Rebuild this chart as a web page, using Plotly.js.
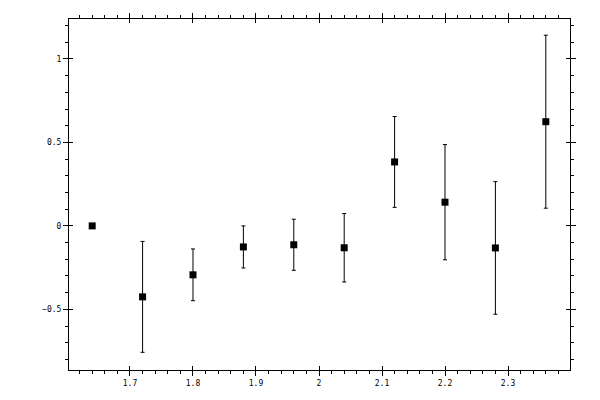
<!DOCTYPE html>
<html>
<head>
<meta charset="utf-8">
<script src="https://cdn.plot.ly/plotly-3.0.1.min.js"></script>
<style>body{margin:0;background:#fff}#chart{width:600px;height:400px}</style>
</head>
<body>
<div id="chart"></div>
<script>
// measured points with symmetric errors
var xVals = [1.64, 1.72, 1.80, 1.88, 1.96, 2.04, 2.12, 2.20, 2.28, 2.36];
var yVals = [0, -0.425, -0.293, -0.126, -0.113, -0.131, 0.383, 0.142, -0.132, 0.624];
var yErr  = [0, 0.332, 0.155, 0.126, 0.153, 0.205, 0.272, 0.345, 0.397, 0.518];

var xRange = [1.6032, 2.3984];
var yRange = [-0.863, 1.239];

var tickFont = {family: 'DejaVu Sans Mono', size: 8, color: '#000'};

var pts = {
    x: xVals,
    y: yVals,
    mode: 'markers',
    type: 'scatter',
    marker: {symbol: 'square', size: 7, color: '#000'},
    error_y: {type: 'data', array: yErr, visible: true, color: '#000', thickness: 1, width: 2},
    showlegend: false,
    hoverinfo: 'x+y'
};

// empty trace on the overlay axes so they get drawn
var dummy = {x: [], y: [], xaxis: 'x2', yaxis: 'y2', type: 'scatter', showlegend: false};

var layout = {
    width: 600,
    height: 400,
    margin: {l: 69, r: 30, t: 19, b: 30},
    paper_bgcolor: '#fff',
    plot_bgcolor: '#fff',
    xaxis: {
        range: xRange,
        dtick: 0.1,
        tick0: 1.7,
        ticks: 'outside',
        ticklen: 5,
        tickwidth: 1,
        tickcolor: '#000',
        showline: true,
        linecolor: '#000',
        linewidth: 1,
        mirror: 'ticks',
        showgrid: false,
        zeroline: false,
        tickfont: tickFont,
        minor: {dtick: 0.02, tick0: 1.7, ticks: 'outside', ticklen: 3, tickcolor: '#000', showgrid: false}
    },
    yaxis: {
        range: yRange,
        dtick: 0.5,
        tick0: 0,
        ticks: 'outside',
        ticklen: 5,
        tickwidth: 1,
        tickcolor: '#000',
        showline: true,
        linecolor: '#000',
        linewidth: 1,
        mirror: 'ticks',
        showgrid: false,
        zeroline: false,
        tickfont: tickFont,
        minor: {dtick: 0.1, tick0: 0, ticks: 'outside', ticklen: 3, tickcolor: '#000', showgrid: false}
    },
    xaxis2: {
        overlaying: 'x',
        range: xRange,
        dtick: 0.1,
        tick0: 1.7,
        ticks: 'inside',
        ticklen: 4,
        tickcolor: '#000',
        mirror: 'ticks',
        showline: false,
        showgrid: false,
        zeroline: false,
        showticklabels: false
    },
    yaxis2: {
        overlaying: 'y',
        range: yRange,
        dtick: 0.5,
        tick0: 0,
        ticks: 'inside',
        ticklen: 4,
        tickcolor: '#000',
        mirror: 'ticks',
        showline: false,
        showgrid: false,
        zeroline: false,
        showticklabels: false
    }
};

Plotly.newPlot('chart', [pts, dummy], layout, {displayModeBar: false, staticPlot: true});
</script>
</body>
</html>
